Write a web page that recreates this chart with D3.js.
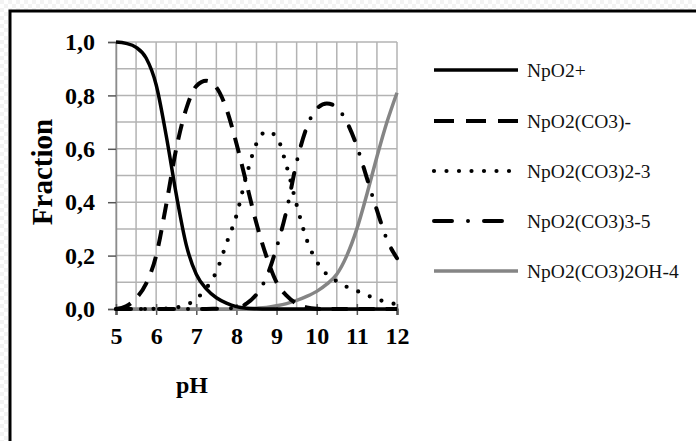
<!DOCTYPE html>
<html>
<head>
<meta charset="utf-8">
<script src="https://cdn.jsdelivr.net/npm/d3@7/dist/d3.min.js"></script>
<style>
  html, body { margin: 0; padding: 0; background: #fff; }
  svg { display: block; }
  text { font-family: "Liberation Serif", "Times New Roman", serif; }
</style>
</head>
<body>
<svg id="chart" width="696" height="441"></svg>
<script>
// pH grid of the speciation calculation
const pH = [5.0, 5.25, 5.5, 5.75, 6.0, 6.25, 6.5, 6.75, 7.0, 7.25, 7.5, 7.75, 8.0, 8.25, 8.5,
            8.75, 9.0, 9.25, 9.5, 9.75, 10.0, 10.25, 10.5, 10.75, 11.0, 11.25, 11.5, 11.75, 12.0];

// species fractions at each pH
const npo2 = [1.0, 0.995, 0.98, 0.94, 0.84, 0.65, 0.43, 0.24, 0.13, 0.075, 0.042, 0.022, 0.009, 0.003, 0.001,
              0, 0, 0, 0, 0, 0, 0, 0, 0, 0, 0, 0, 0, 0];
const npo2co3 = [0, 0.01, 0.04, 0.095, 0.2, 0.39, 0.6, 0.75, 0.835, 0.855, 0.83, 0.75, 0.62, 0.47, 0.32,
                 0.196, 0.1, 0.05, 0.02, 0.006, 0.001, 0, 0, 0, 0, 0, 0, 0, 0];
const npo2co3_2 = [0, 0, 0, 0, 0.001, 0.002, 0.006, 0.015, 0.038, 0.078, 0.14, 0.245, 0.35, 0.5, 0.62,
                   0.665, 0.645, 0.535, 0.39, 0.26, 0.178, 0.13, 0.104, 0.083, 0.068, 0.052, 0.037, 0.026, 0.017];
const npo2co3_3 = [0, 0, 0, 0, 0, 0, 0, 0, 0, 0, 0.001, 0.002, 0.005, 0.02, 0.055,
                   0.12, 0.23, 0.37, 0.55, 0.68, 0.75, 0.77, 0.755, 0.7, 0.61, 0.49, 0.37, 0.26, 0.19];
const npo2co3oh = [0, 0, 0, 0, 0, 0, 0, 0, 0, 0, 0, 0, 0, 0.001, 0.003,
                   0.006, 0.012, 0.02, 0.032, 0.047, 0.066, 0.093, 0.13, 0.2, 0.3, 0.43, 0.57, 0.7, 0.81];

const seriesNames = ["NpO2+", "NpO2(CO3)-", "NpO2(CO3)2-3", "NpO2(CO3)3-5", "NpO2(CO3)2OH-4"];
const seriesValues = [npo2, npo2co3, npo2co3_2, npo2co3_3, npo2co3oh];

const xTicks = [5, 6, 7, 8, 9, 10, 11, 12];
const yTicks = [0, 0.2, 0.4, 0.6, 0.8, 1.0];
const yTickLabels = ["0,0", "0,2", "0,4", "0,6", "0,8", "1,0"];

// line styles per species
const styles = [
  { color: "#000", width: 3.5, dash: null, cap: "butt" },
  { color: "#000", width: 4, dash: "16 11", cap: "butt" },
  { color: "#000", width: 4.2, dash: "0 12.5", cap: "round" },
  { color: "#000", width: 4, dash: "15 14 0 14", cap: "round" },
  { color: "#858585", width: 3.5, dash: null, cap: "butt" }
];

const svg = d3.select("#chart");

// faint backdrop outside the frame
const defs = svg.append("defs");
const pat = defs.append("pattern").attr("id", "bg").attr("width", 8).attr("height", 8)
  .attr("patternUnits", "userSpaceOnUse");
pat.append("rect").attr("width", 8).attr("height", 8).attr("fill", "#fff");
pat.append("rect").attr("width", 4).attr("height", 4).attr("fill", "#f3f3f3");
pat.append("rect").attr("x", 4).attr("y", 4).attr("width", 4).attr("height", 4).attr("fill", "#f3f3f3");
svg.append("rect").attr("width", 696).attr("height", 441).attr("fill", "url(#bg)");

// chart frame (right and bottom edges run off the canvas)
svg.append("rect").attr("x", 10).attr("y", 11).attr("width", 720).attr("height", 460)
  .attr("fill", "#fff").attr("stroke", "#000").attr("stroke-width", 3);

const x = d3.scaleLinear().domain([5, 12]).range([116, 397]);
const y = d3.scaleLinear().domain([0, 1]).range([309, 42]);

// gridlines
const grid = svg.append("g");
const gx = d3.range(5, 12.001, 0.5);
const gy = d3.range(0, 1.0001, 0.1);
grid.selectAll("line.v").data(gx).join("line")
  .attr("x1", d => x(d)).attr("x2", d => x(d)).attr("y1", y(0)).attr("y2", y(1))
  .attr("stroke", "#b3b3b3").attr("stroke-width", 1.5);
grid.selectAll("line.h").data(gy).join("line")
  .attr("x1", x(5)).attr("x2", x(12)).attr("y1", d => y(d)).attr("y2", d => y(d))
  .attr("stroke", "#b3b3b3").attr("stroke-width", 1.5);

// y axis
const yAxis = svg.append("g").attr("transform", `translate(${x(5)},0)`)
  .call(d3.axisLeft(y).tickValues(yTicks).tickSize(8).tickPadding(13)
    .tickFormat((d, i) => yTickLabels[i]));
yAxis.select(".domain").attr("stroke", "#8c8c8c").attr("stroke-width", 1.5);
yAxis.selectAll(".tick line").attr("stroke", "#555").attr("stroke-width", 1.5);
yAxis.selectAll(".tick text").attr("font-size", 24).attr("font-weight", "bold")
  .attr("font-family", "Liberation Serif").attr("fill", "#000");

// x axis
const xAxis = svg.append("g").attr("transform", `translate(0,${y(0)})`)
  .call(d3.axisBottom(x).tickValues(xTicks).tickSize(6).tickPadding(12).tickFormat(d3.format("d")));
xAxis.select(".domain").attr("stroke", "#000").attr("stroke-width", 2);
xAxis.selectAll(".tick line").attr("y1", -5).attr("stroke", "#555").attr("stroke-width", 1.5);
xAxis.selectAll(".tick text").attr("y", 18).attr("font-size", 24).attr("font-weight", "bold")
  .attr("font-family", "Liberation Serif").attr("fill", "#000");

// axis titles
svg.append("text").attr("x", 192).attr("y", 393).attr("text-anchor", "middle")
  .attr("font-size", 24).attr("font-weight", "bold").text("pH");
svg.append("text").attr("transform", "translate(52,172) rotate(-90)").attr("text-anchor", "middle")
  .attr("font-size", 29).attr("font-weight", "bold").text("Fraction");

// species curves
const line = d3.line().x((d, i) => x(pH[i])).y(d => y(d)).curve(d3.curveMonotoneX);
const drawOrder = [4, 2, 3, 1, 0];
drawOrder.forEach(k => {
  const s = styles[k];
  svg.append("path").datum(seriesValues[k]).attr("d", line)
    .attr("fill", "none").attr("stroke", s.color).attr("stroke-width", s.width)
    .attr("stroke-dasharray", s.dash).attr("stroke-linecap", s.cap);
});

// legend
const legendY = [70, 121, 171, 221, 271];
const legend = svg.append("g");
seriesNames.forEach((name, k) => {
  const s = styles[k];
  legend.append("line").attr("x1", 434).attr("x2", 518).attr("y1", legendY[k]).attr("y2", legendY[k])
    .attr("stroke", s.color).attr("stroke-width", s.width)
    .attr("stroke-dasharray", k === 1 ? "20 12" : k === 3 ? "18 16 0 16" : s.dash)
    .attr("stroke-linecap", s.cap);
  legend.append("text").attr("x", 527).attr("y", legendY[k] + 6.5)
    .attr("font-size", 19.5).attr("fill", "#111").text(name);
});
</script>
</body>
</html>
